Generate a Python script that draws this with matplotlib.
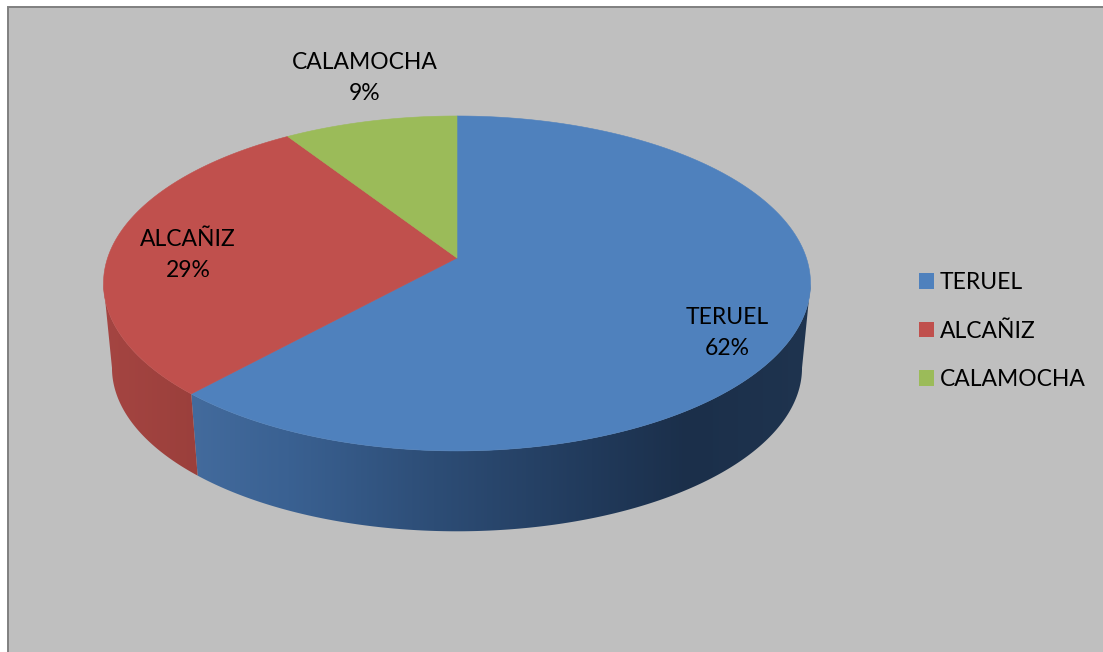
import numpy as np
import matplotlib
matplotlib.use('Agg')
import matplotlib.pyplot as plt
from matplotlib.colors import LinearSegmentedColormap
from matplotlib.patches import Polygon, Rectangle

categories = ['TERUEL', 'ALCAÑIZ', 'CALAMOCHA']
values = [61.8, 29.0, 9.2]

colors = ['#4f81bd', '#c0504d', '#9bbb59']
label_pos = [(727, 333), (188, 255), (365, 78)]

# perspective of the tilted disc, in pixels
apex_x, apex_y = 457, 258
rx, ry, tilt = 349.4, 163.6, 0.152
depth, bottom_scale = 85, 0.976


def rim(theta, scale=1.0, drop=0.0):
    # theta runs clockwise from 12 o'clock
    u, v = np.sin(theta), np.cos(theta)
    w = 1 + tilt * v
    return np.column_stack((apex_x + scale * rx * u / w,
                            apex_y + drop - scale * ry * v / w))


plt.rcParams['font.family'] = ['Lato', 'DejaVu Sans']
fig = plt.figure(figsize=(11.03, 6.52), dpi=100, facecolor='white')
ax = fig.add_axes([0, 0, 1, 1])

ax.add_patch(Rectangle((7.5, 6.5), 1200, 800, facecolor='#bfbfbf',
                       edgecolor='#808080', linewidth=1.4, zorder=0))

side_cmaps = [
    LinearSegmentedColormap.from_list('blue_side', [
        (0.0, '#446c9e'), (0.17, '#3a6192'), (0.4, '#2d4d76'),
        (0.65, '#213a5b'), (0.8, '#1b2f4a'), (1.0, '#1f344f')]),
    LinearSegmentedColormap.from_list('red_side', ['#a54542', '#9a3f3b']),
    LinearSegmentedColormap.from_list('green_side', ['#7d9848', '#7d9848']),
]
side_extent = [(180, 815), (100, 205), (280, 460)]

edges = np.radians(np.cumsum([0] + values) / sum(values) * 360)

# the wall is only seen between the two tangent points of the rim
vis_a = np.arccos(-tilt)
vis_b = 2 * np.pi - vis_a

# side walls first, top faces go over them
for i in range(len(values)):
    a, b = max(edges[i], vis_a), min(edges[i + 1], vis_b)
    if a >= b:
        continue
    theta = np.linspace(a, b, 200)
    wall = np.vstack((rim(theta), rim(theta[::-1], bottom_scale, depth)))
    grad = np.linspace(0, 1, 256).reshape(1, -1)
    x0, x1 = side_extent[i]
    im = ax.imshow(grad, cmap=side_cmaps[i], extent=(x0, x1, 560, 100),
                   aspect='auto', zorder=1, interpolation='bilinear')
    clip = Polygon(wall, closed=True, transform=ax.transData)
    im.set_clip_path(clip)

for i in range(len(values)):
    theta = np.linspace(edges[i], edges[i + 1], 200)
    face = np.vstack(([[apex_x, apex_y]], rim(theta)))
    ax.fill(face[:, 0], face[:, 1], color=colors[i], linewidth=0.4, zorder=2)

for name, val, (x, y) in zip(categories, values, label_pos):
    ax.text(x, y, f'{name}\n{round(val)}%', ha='center', va='center', fontsize=16.5,
            color='black', linespacing=1.6, zorder=3)

handles = [Rectangle((0, 0), 1, 1, facecolor=c) for c in colors]
ax.legend(handles, categories, loc='center left', frameon=False, fontsize=16.5,
          bbox_to_anchor=(908, 331), bbox_transform=ax.transData,
          handlelength=0.65, handleheight=0.65, handletextpad=0.24,
          labelspacing=1.2, borderpad=0, borderaxespad=0.5, labelcolor='black')

ax.set_xlim(0, 1103)
ax.set_ylim(652, 0)
ax.axis('off')

fig.savefig('out.png', dpi=100, facecolor='white')
